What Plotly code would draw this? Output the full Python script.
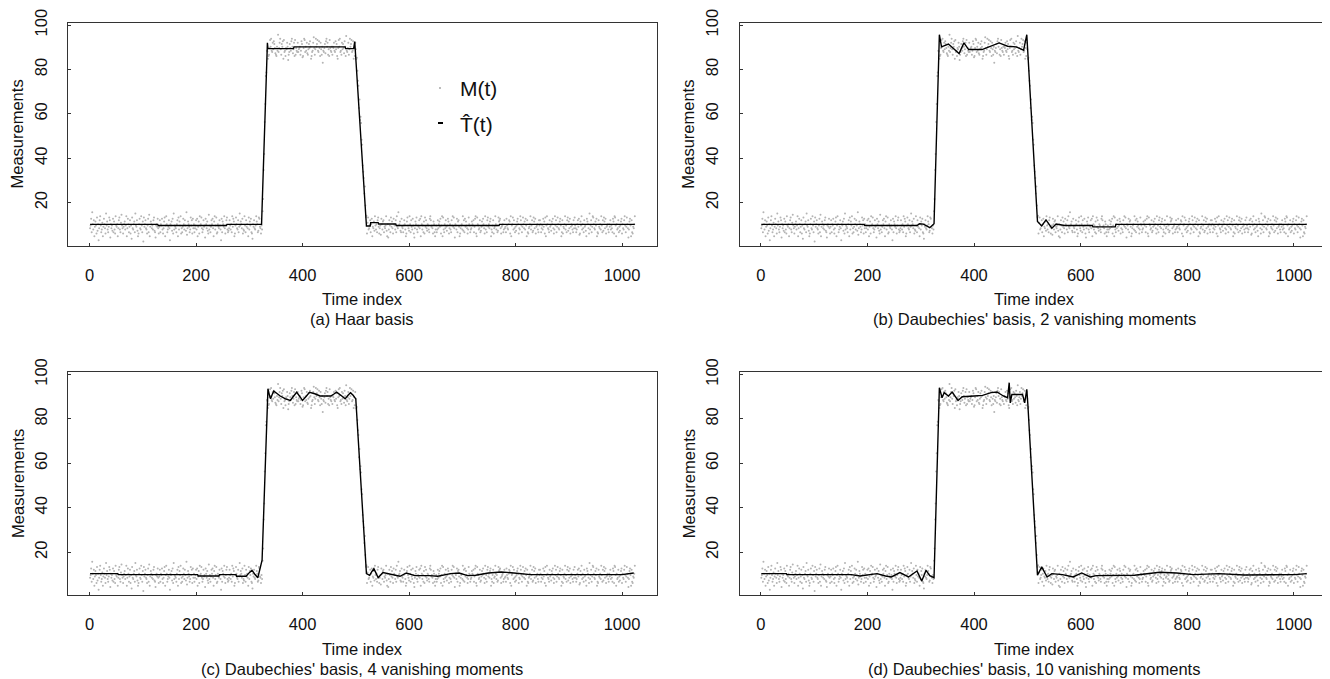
import plotly.graph_objects as go

# ---------------- data ----------------
N = 1024
TIME = list(range(1, N + 1))

LOW_LEVEL = 10.0
HIGH_LEVEL = 90.0
RISE = [14, 22, 32, 44, 56, 66, 75, 82, 87, 89]                      # t = 325..334
FALL = [88, 85, 81, 77, 73, 69, 65, 60, 56, 52, 48, 44, 40, 36, 32, 28, 24, 19, 15, 12]  # t = 501..520

# measurement noise read as letters ('m'/'n' ~ 0), one per time index
NOISE = (
    "kmrhwnjqelpmgsinbkqtmhjoelrnkgvmpjhlsqdnkmirhpjgtmlnekqsjhoumkgln"
    "pjmtekrnhlqgmcskjnphvmlqiegnrkjtmhpaslnqkjgmrhuelpnkmjqsihdmnlrkg"
    "lqhnmrjgkpsemtnhjlqkbnmpirgvjmlkhnqesjpmtgkhlrnjqmiwfkpnlhjsmqgrk"
    "nhkmqjrelpgtmnskhjqlmdrnkpigujmhlqnrkeptjmsghnlkqmjbrhpnltkgmqsjh"
    "ikqmjnhtlrpegmsnkjqhlvmpnkrgjitmhqlnkesjpmrhgcnlqkjmtpnhisrlkgmjq"
    "mrjnkqhpleghmsntkjqlrpmihgnkwjmqtlhpnresjkgmlqndhjpmkrtnilqgshmkj"
    "qjlmnhkrpfgmtsjnkqihlpmrnegjkqumhltnpskjrmgqlhnbkjmpirtnqhlgsmkjn"
    "hnmqkjrlpgemsntjkhqlpmirngvkjmqhltnpsjkremgqlhnkjmcpirtnqhjlgsmkq"
    "gosjkmqhnrelkpitmjnhqslgkmfrnjpqhlkmtiendjqmhslpkgrnmjqhtlkwmnpih"
    "rlkhmqnjegpsmkitnhqljrmgdkpnsjhmlqkretnjmhpgslqkinmjhrtqlmkgpnhej"
    "mhjqknplrgmtesjhnkqlimrpgknjhqmtlskdnmjrhpqlegkmnjtiqhrlpmkgjsnmh"
    "jkpnmqhlrtgesnmjkqhilpmrnkgtjmhqslnkprejhmqgkltnjmhispqrkglmnhjqk"
    "lhrmkjnqpgtemnsjqkhlimprngkjtqmhlsnkpjrmeqhgklntjmqhispkrglmnjhqm"
    "qnhkmjrlpgsemtnkjhqlmipnrkgjtmqhlsnkjprmehqglkntjmhqsipkrglnmjhqk"
    "smkhjnqlrfgpmtjnkhqlmierpnkgvjmqhltsnkjpmrehgqlknjtmhqispkrglmnjh"
    "nlqjmkhrpgtsmenjkqhlimprgnkjqtmhlsnkdjprmeqhglkntjmqhispkrglmnhjq"
    "hkmrjqnlpgstemnjkhqlimpnrgkjtmqhlsnkjprmeqhgklntjmhqsipkrglnmjhqm"
    "pmjkqnhrlgsmtenkjqhlimprngkjtqmhlsnkpjrmeqhglkntjmqhispkrglmnjhqk"
)
NOISE_SCALE = 0.6

# estimated trends T^(t): vertices (time index, value)
A_T = [1, 128, 129, 257, 258, 323, 334, 335, 383, 384, 480, 481, 496, 498, 520, 527, 528, 542, 543, 575, 576, 769, 770, 1024]
A_V = [10.2, 10.2, 9.7, 9.7, 10.2, 10.2, 92.0, 89.4, 89.4, 90.2, 90.2, 89.4, 89.4, 92.6, 9.5, 9.5, 11.0, 11.0, 10.4, 10.4, 9.7, 9.7, 10.2, 10.2]

B_T = [1, 194, 195, 293, 298, 305, 317, 325, 335, 339, 352, 372, 381, 390, 415, 430, 447, 463, 479, 493, 499, 519, 527, 535, 546, 554, 570, 622, 623, 665, 666, 1024]
B_V = [10.2, 10.2, 9.7, 9.7, 10.5, 10.3, 8.7, 10.5, 95.7, 90.2, 91.5, 87.2, 92.0, 89.0, 89.0, 90.5, 92.0, 90.5, 90.2, 88.7, 95.7, 11.5, 9.5, 12.2, 8.5, 10.4, 9.7, 9.7, 9.1, 9.1, 10.2, 10.2]

C_T = [1, 53, 54, 203, 204, 243, 244, 275, 276, 294, 300, 305, 310, 316, 324, 335, 338, 340, 343, 346, 352, 358, 368, 377, 383, 389, 395, 400, 407, 413, 423, 433, 443, 453, 459, 464, 472, 480, 485, 490, 495, 500, 520, 526, 530, 534, 538, 542, 551, 571, 583, 595, 611, 638, 654, 678, 694, 710, 725, 749, 773, 797, 828, 1000, 1022]
C_V = [10.35, 10.35, 9.9, 9.9, 9.3, 9.3, 9.9, 9.9, 9.15, 9.15, 10.8, 11.9, 10.2, 8.5, 16.4, 93.6, 90.5, 89.0, 91.0, 92.5, 91.4, 90.3, 89.0, 88.3, 90.2, 92.0, 90.0, 88.3, 90.2, 92.0, 91.3, 90.3, 90.3, 90.3, 91.2, 92.0, 90.6, 89.0, 90.5, 91.8, 90.6, 89.0, 10.35, 9.6, 11.2, 12.6, 10.6, 8.5, 10.8, 9.6, 9.15, 10.65, 9.45, 9.45, 9.15, 10.35, 10.65, 9.45, 9.6, 10.65, 11.1, 10.65, 9.9, 9.9, 10.65]

D_T = [1, 48, 49, 170, 186, 218, 234, 245, 261, 277, 293, 302, 310, 317, 325, 335, 340, 344, 352, 359, 370, 378, 400, 416, 432, 443, 455, 463, 466, 468, 471, 491, 495, 499, 501, 519, 527, 537, 546, 566, 586, 602, 618, 629, 701, 724, 748, 780, 812, 859, 907, 1002, 1024]
D_V = [10.35, 10.35, 9.9, 9.9, 9.3, 10.35, 9.3, 8.85, 10.8, 8.85, 11.55, 7.0, 11.85, 9.45, 8.5, 94.0, 89.5, 91.8, 90.3, 92.1, 88.3, 89.95, 90.3, 90.6, 91.8, 92.1, 90.3, 89.5, 96.3, 87.2, 91.0, 91.0, 87.2, 93.3, 86.5, 9.6, 13.4, 8.85, 10.35, 9.9, 8.85, 10.65, 8.85, 9.45, 9.6, 10.35, 10.95, 10.65, 9.9, 10.35, 9.75, 9.9, 10.35]

CAPTIONS = [
    "(a) Haar basis",
    "(b) Daubechies' basis, 2 vanishing moments",
    "(c) Daubechies' basis, 4 vanishing moments",
    "(d) Daubechies' basis, 10 vanishing moments",
]
X_TICKS = [0, 200, 400, 600, 800, 1000]
Y_TICKS = [20, 40, 60, 80, 100]

# measurements M(t)
LEVEL = [LOW_LEVEL] * 324 + RISE + [HIGH_LEVEL] * 166 + FALL + [LOW_LEVEL] * 504
MEAS = [LEVEL[i] + (ord(NOISE[i]) - 109.5) * NOISE_SCALE for i in range(N)]

# ---------------- layout ----------------
PAGE_OFFSET = 8            # default body margin of the html page
W, H = 1330 - PAGE_OFFSET, 679 - PAGE_OFFSET
FONT = "Liberation Sans, Arial, sans-serif"
INK = "#111111"

def px(x):
    return (x - PAGE_OFFSET) / W

def py(y):
    return 1 - (y - PAGE_OFFSET) / H

# panel boxes in screen pixels (left, right, top, bottom)
BOXES = [
    (68.3, 656.6, 22.7, 245.7),
    (739.5, 1328.5, 22.7, 245.7),
    (68.3, 656.6, 372.0, 595.3),
    (739.5, 1328.5, 372.0, 595.3),
]
LINES = [(A_T, A_V), (B_T, B_V), (C_T, C_V), (D_T, D_V)]

fig = go.Figure()
layout = dict(
    width=W, height=H, autosize=False,
    margin=dict(l=0, r=0, t=0, b=0, pad=0),
    paper_bgcolor="white", plot_bgcolor="white",
    showlegend=False,
    font=dict(family=FONT, size=16.5, color=INK),
)
annotations = []
shapes = []

for k, (l, r, t, b) in enumerate(BOXES):
    n = k + 1
    xa = "x" if n == 1 else f"x{n}"
    ya = "y" if n == 1 else f"y{n}"
    fig.add_trace(go.Scatter(
        x=TIME, y=MEAS, mode="markers", xaxis=xa, yaxis=ya,
        marker=dict(size=2, color="#b4b4b4", line=dict(width=0)),
        hoverinfo="skip", name="M(t)"))
    lt, lv = LINES[k]
    fig.add_trace(go.Scatter(
        x=lt, y=lv, mode="lines", xaxis=xa, yaxis=ya,
        line=dict(color="black", width=1.4), name="T(t)"))

    axis_common = dict(
        showgrid=False, zeroline=False, showline=True, linecolor="#333333",
        linewidth=1, mirror=True, ticks="inside", ticklen=3, tickcolor="#333333",
        automargin=False,
        tickfont=dict(family=FONT, size=16.5, color=INK),
    )
    layout["xaxis" + ("" if n == 1 else str(n))] = dict(
        domain=[px(l), px(r)], range=[-39.92, 1064.92], anchor=ya,
        tickmode="array", tickvals=X_TICKS, ticklabelstandoff=14, **axis_common)
    layout["yaxis" + ("" if n == 1 else str(n))] = dict(
        domain=[py(b), py(t)], range=[0.6, 101.1], anchor=xa,
        tickmode="array", tickvals=Y_TICKS, tickangle=-90, ticklabelstandoff=14,
        **axis_common)

    cx = px((l + r) / 2)
    annotations.append(dict(text="Time index", x=cx, y=py(b + 53.5), xref="paper", yref="paper",
                            showarrow=False, xanchor="center", yanchor="middle",
                            font=dict(family=FONT, size=16.5, color=INK)))
    annotations.append(dict(text=CAPTIONS[k], x=cx, y=py(b + 73.5), xref="paper", yref="paper",
                            showarrow=False, xanchor="center", yanchor="middle",
                            font=dict(family=FONT, size=16.5, color=INK)))
    annotations.append(dict(text="Measurements", x=px(l - 51), y=py((t + b) / 2),
                            xref="paper", yref="paper", showarrow=False, textangle=-90,
                            xanchor="center", yanchor="middle",
                            font=dict(family=FONT, size=16.5, color=INK)))

# legend in panel (a)
shapes.append(dict(type="circle", xref="paper", yref="paper",
                   x0=px(439), x1=px(441), y0=py(89), y1=py(87),
                   fillcolor="#a6a6a6", line=dict(width=0)))
shapes.append(dict(type="line", xref="paper", yref="paper",
                   x0=px(438), x1=px(443), y0=py(123), y1=py(123),
                   line=dict(color="black", width=2)))
annotations.append(dict(text="M(t)", x=px(458), y=py(88), xref="paper", yref="paper",
                        showarrow=False, xanchor="left", yanchor="middle",
                        font=dict(family=FONT, size=21, color=INK)))
annotations.append(dict(text="T\u0302(t)", x=px(458), y=py(124), xref="paper", yref="paper",
                        showarrow=False, xanchor="left", yanchor="middle",
                        font=dict(family=FONT, size=21, color=INK)))

layout["annotations"] = annotations
layout["shapes"] = shapes
fig.update_layout(**layout)
fig.write_html("out.html")
